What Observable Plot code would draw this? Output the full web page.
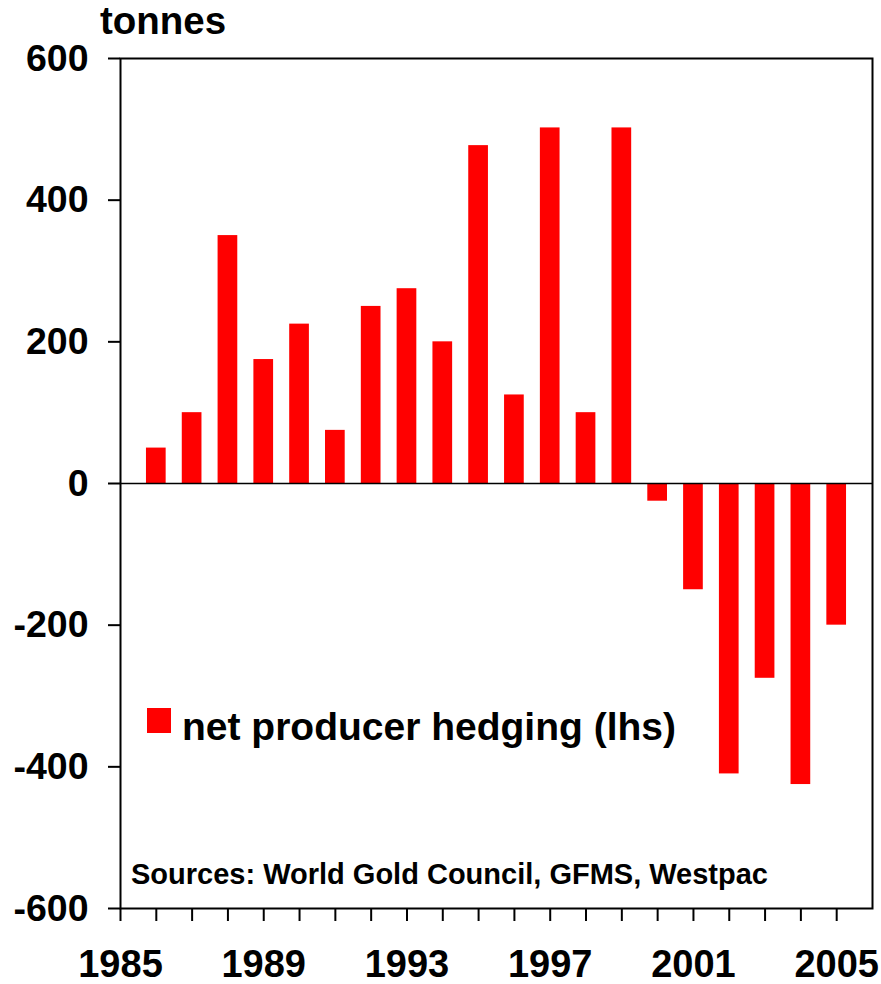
<!DOCTYPE html>
<html>
<head>
<meta charset="utf-8">
<script src="https://cdn.jsdelivr.net/npm/d3@7"></script>
<script src="https://cdn.jsdelivr.net/npm/@observablehq/plot@0.6"></script>
<style>
  html, body { margin: 0; padding: 0; background: #fff; }
  #wrap { position: relative; width: 881px; height: 984px; font-family: "Liberation Sans", Arial, sans-serif; font-weight: bold; color: #000; }
  #wrap svg { position: absolute; left: 0; top: 0; overflow: visible; }
  .lbl { position: absolute; line-height: 1; white-space: nowrap; }
  #unit { left: 100px; top: 2px; font-size: 38.5px; }
  #legend { left: 147px; top: 707px; font-size: 39px; }
  #legend .sw { position: absolute; left: 0; top: 1px; width: 24px; height: 25px; background: #ff0000; }
  #legend .tx { position: absolute; left: 35px; top: 0; }
  #source { left: 131px; top: 860px; font-size: 29px; }
</style>
</head>
<body>
<div id="wrap">
  <div class="lbl" id="unit">tonnes</div>
  <div class="lbl" id="legend"><div class="sw"></div><div class="tx">net producer hedging (lhs)</div></div>
  <div class="lbl" id="source">Sources: World Gold Council, GFMS, Westpac</div>
</div>
<script>
const years = [1986, 1987, 1988, 1989, 1990, 1991, 1992, 1993, 1994, 1995, 1996, 1997, 1998, 1999, 2000, 2001, 2002, 2003, 2004, 2005];
const hedging = [50, 100, 350, 175, 225, 75, 250, 275, 200, 477, 125, 502, 100, 502, -25, -150, -410, -275, -425, -200];
const xTickYears = [1985, 1986, 1987, 1988, 1989, 1990, 1991, 1992, 1993, 1994, 1995, 1996, 1997, 1998, 1999, 2000, 2001, 2002, 2003, 2004, 2005];
const xLabelYears = [1985, 1989, 1993, 1997, 2001, 2005];
const yTicks = [-600, -400, -200, 0, 200, 400, 600];

const data = years.map((y, i) => ({year: y, value: hedging[i]}));
const halfBar = 0.275;

const chart = Plot.plot({
  width: 881,
  height: 984,
  marginLeft: 120,
  marginRight: 9,
  marginTop: 58,
  marginBottom: 76,
  style: {fontFamily: "'Liberation Sans', Arial, sans-serif", fontWeight: "bold", background: "transparent", color: "#000", overflow: "visible"},
  x: {domain: [1985, 2006]},
  y: {domain: [-600, 600]},
  marks: [
    Plot.rectY(data, {x1: d => d.year - halfBar, x2: d => d.year + halfBar, y1: 0, y2: "value", fill: "#ff0000"}),
    Plot.ruleY([0], {stroke: "#000", strokeWidth: 1.6}),
    Plot.frame({stroke: "#000", strokeWidth: 2}),
    Plot.axisY({ticks: yTicks, tickSize: 12, tickPadding: 20, fontSize: 37.5, tickFormat: d => String(d), strokeWidth: 2, label: null}),
    Plot.axisX({ticks: xTickYears, tickSize: 13, tickFormat: () => "", strokeWidth: 2, label: null}),
    Plot.axisX({ticks: xLabelYears, tickSize: 0, tickPadding: 42, fontSize: 38, tickFormat: d => String(d), label: null})
  ]
});
document.getElementById("wrap").prepend(chart);
</script>
</body>
</html>
